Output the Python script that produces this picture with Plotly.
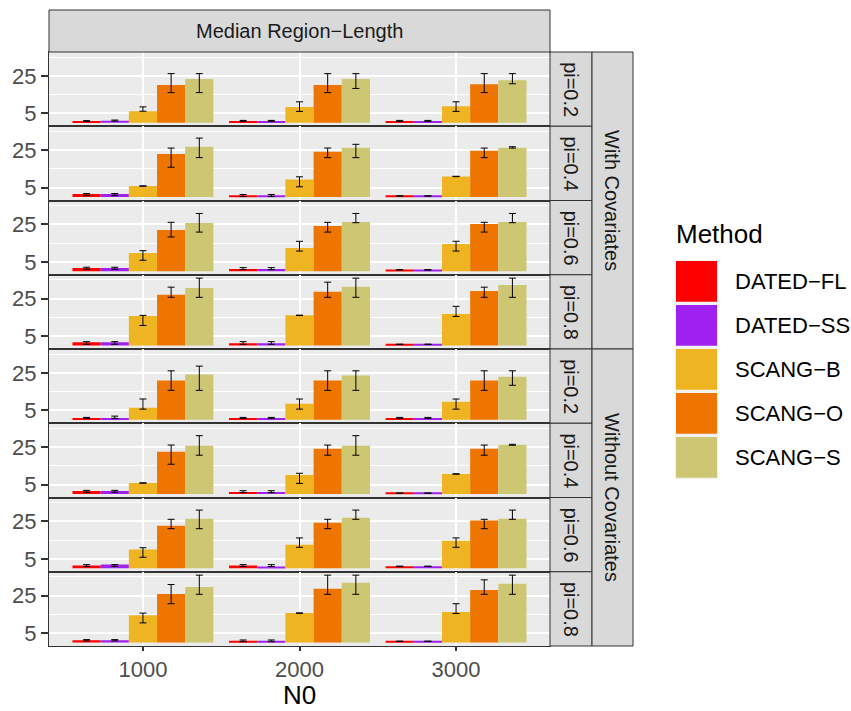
import plotly.graph_objects as go
from plotly.subplots import make_subplots

# ---------------- data ----------------
n0_labels = ["1000", "2000", "3000"]
methods = ["DATED\u2212FL", "DATED\u2212SS", "SCANG\u2212B", "SCANG\u2212O", "SCANG\u2212S"]
method_colors = ["#FF0000", "#A020F0", "#EEB422", "#EE7600", "#CDC673"]
covariate_groups = ["With Covariates", "Without Covariates"]
pi_labels = ["pi=0.2", "pi=0.4", "pi=0.6", "pi=0.8"]
y_tick_vals = [5, 25]

# median values per panel (8 panels: With 0.2..0.8, Without 0.2..0.8), each [N0=1000,2000,3000]
dated_fl_med = [[0.9, 1.0, 1.0], [1.7, 0.6, 0.6], [1.8, 1.3, 0.8], [1.8, 1.25, 0.7],
                [0.9, 0.9, 0.9], [1.6, 1.1, 0.5], [1.5, 1.5, 1.1], [1.25, 0.7, 0.7]]
dated_fl_lo = [[0.8, 0.8, 0.8], [0.8, 0.3, 0.5], [1.1, 0.9, 0.7], [0.7, 0.7, 0.6],
               [0.8, 0.8, 0.8], [0.9, 0.8, 0.4], [1.0, 1.0, 1.0], [0.9, 0.5, 0.6]]
dated_fl_hi = [[1.2, 1.3, 1.3], [1.9, 1.4, 0.7], [2.2, 2.0, 0.9], [2.1, 2.1, 0.8],
               [1.3, 1.3, 1.3], [2.0, 1.8, 0.6], [2.0, 2.0, 1.2], [1.6, 1.4, 0.8]]

dated_ss_med = [[1.1, 1.0, 1.0], [1.7, 0.6, 0.6], [1.8, 1.3, 0.8], [1.8, 1.25, 0.7],
                [1.0, 0.9, 0.9], [1.6, 1.1, 0.5], [2.0, 0.9, 1.1], [1.25, 0.7, 0.7]]
dated_ss_lo = [[0.9, 0.8, 0.8], [0.8, 0.3, 0.5], [1.1, 0.9, 0.7], [0.7, 0.7, 0.6],
               [0.8, 0.8, 0.8], [0.9, 0.8, 0.4], [1.0, 1.0, 1.0], [0.9, 0.5, 0.6]]
dated_ss_hi = [[1.5, 1.3, 1.3], [1.9, 1.4, 0.7], [2.2, 2.0, 0.9], [2.1, 2.1, 0.8],
               [2.0, 1.3, 1.3], [2.0, 1.8, 0.6], [2.0, 2.0, 1.2], [1.6, 1.4, 0.8]]

scang_b_med = [[6.2, 8.4, 8.9], [5.9, 9.4, 11.0], [9.8, 12.4, 14.6], [15.7, 16.1, 16.8],
               [6.4, 8.6, 9.6], [5.9, 10.2, 10.7], [10.0, 12.6, 14.7], [14.6, 15.7, 16.25]]
scang_b_lo = [[6.2, 6.1, 6.1], [5.8, 5.5, 10.9], [5.9, 10.8, 10.8], [10.7, 16.0, 15.5],
              [5.7, 5.7, 5.7], [5.8, 5.7, 10.6], [5.9, 11.2, 11.2], [10.5, 15.6, 15.5]]
scang_b_hi = [[8.5, 11.2, 11.2], [6.0, 10.8, 11.1], [11.0, 16.0, 16.0], [16.1, 16.2, 20.9],
              [11.1, 11.1, 11.1], [6.0, 11.1, 10.8], [11.0, 16.2, 16.2], [15.7, 15.8, 20.7]]

scang_o_med = [[20.1, 20.1, 20.6], [23.0, 24.1, 24.6], [22.0, 24.1, 25.2], [27.0, 28.6, 29.1],
               [20.9, 20.9, 20.9], [22.5, 24.1, 24.1], [22.7, 24.3, 25.4], [25.9, 28.6, 28.0]]
scang_o_lo = [[16.1, 16.1, 16.1], [15.9, 21.0, 21.0], [18.3, 20.9, 20.9], [25.7, 25.7, 25.7],
              [15.7, 15.7, 15.7], [15.9, 20.7, 20.7], [21.1, 21.1, 21.1], [20.7, 25.7, 25.7]]
scang_o_hi = [[26.2, 26.2, 26.2], [26.1, 26.1, 26.1], [26.1, 26.1, 26.1], [31.1, 33.75, 31.1],
              [26.1, 26.1, 26.1], [26.1, 26.1, 26.1], [26.1, 26.1, 26.1], [30.9, 35.9, 33.4]]

scang_s_med = [[23.3, 23.3, 22.7], [26.8, 26.3, 26.3], [25.7, 26.2, 26.2], [30.7, 31.25, 32.3],
               [24.1, 23.6, 23.0], [25.7, 25.7, 26.25], [26.4, 26.9, 26.4], [29.6, 31.8, 31.25]]
scang_s_lo = [[16.1, 18.3, 20.8], [21.0, 21.0, 26.1], [20.9, 25.9, 25.9], [25.7, 25.7, 25.7],
              [15.7, 15.7, 18.4], [20.7, 20.7, 26.0], [21.1, 26.1, 26.1], [25.7, 25.7, 25.7]]
scang_s_hi = [[26.2, 26.2, 26.2], [31.4, 28.1, 26.8], [30.8, 30.8, 30.8], [35.9, 35.9, 35.9],
              [28.6, 26.1, 26.1], [31.1, 31.1, 26.5], [31.0, 31.0, 31.0], [35.9, 35.9, 35.9]]

medians = [dated_fl_med, dated_ss_med, scang_b_med, scang_o_med, scang_s_med]
lows = [dated_fl_lo, dated_ss_lo, scang_b_lo, scang_o_lo, scang_s_lo]
highs = [dated_fl_hi, dated_ss_hi, scang_b_hi, scang_o_hi, scang_s_hi]

# ---------------- layout geometry (px) ----------------
W, H = 851, 711
L, R, T, B = 49, 301, 52, 65
PW = W - L - R
PH = H - T - B
FONT = "Liberation Sans, Arial, sans-serif"
n_rows = 8


def px_x(px):
    return (px - L) / PW


def px_y(py):
    return (H - B - py) / PH


fig = make_subplots(rows=n_rows, cols=1, shared_xaxes=True, vertical_spacing=0)

for r in range(n_rows):
    for m in range(len(methods)):
        med = medians[m][r]
        lo = lows[m][r]
        hi = highs[m][r]
        fig.add_trace(
            go.Bar(
                x=n0_labels,
                y=med,
                name=methods[m],
                marker=dict(color=method_colors[m], line=dict(width=0)),
                error_y=dict(
                    type="data",
                    symmetric=False,
                    array=[h - v for h, v in zip(hi, med)],
                    arrayminus=[v - l for v, l in zip(med, lo)],
                    color="#000000",
                    thickness=1,
                    width=3.5,
                ),
                showlegend=False,
                hoverinfo="skip",
            ),
            row=r + 1,
            col=1,
        )

fig.update_layout(
    width=W,
    height=H,
    margin=dict(l=L, r=R, t=T, b=B),
    paper_bgcolor="white",
    plot_bgcolor="#EBEBEB",
    barmode="group",
    bargap=0.1,
    bargroupgap=0,
    font=dict(family=FONT),
    showlegend=False,
)

for r in range(n_rows):
    fig.update_yaxes(
        range=[-1.8, 37.7],
        tickmode="array",
        tickvals=y_tick_vals,
        ticktext=[str(v) for v in y_tick_vals],
        tickfont=dict(size=22, color="#4D4D4D", family=FONT),
        ticks="outside",
        ticklen=7,
        tickwidth=1.5,
        tickcolor="#333333",
        showgrid=True,
        gridcolor="#FFFFFF",
        gridwidth=1.7,
        minor=dict(tickmode="array", tickvals=[15, 35], showgrid=True,
                   gridcolor="#FFFFFF", gridwidth=0.9, ticks=""),
        zeroline=False,
        showline=True,
        mirror=True,
        linecolor="#333333",
        linewidth=1,
        fixedrange=True,
        row=r + 1,
        col=1,
    )
    fig.update_xaxes(
        type="category",
        categoryorder="array",
        categoryarray=n0_labels,
        range=[-0.6, 2.6],
        showgrid=True,
        gridcolor="#FFFFFF",
        gridwidth=1.7,
        zeroline=False,
        showline=True,
        mirror=True,
        linecolor="#333333",
        linewidth=1,
        ticks="outside" if r == n_rows - 1 else "",
        ticklen=4,
        tickwidth=1.5,
        tickcolor="#333333",
        showticklabels=(r == n_rows - 1),
        tickfont=dict(size=22, color="#4D4D4D", family=FONT),
        row=r + 1,
        col=1,
    )

shapes = []
annotations = []
STRIP_FILL = "#D9D9D9"
STRIP_LINE = "#333333"
STRIP_FONT = 20

# top strip
shapes.append(dict(type="rect", xref="paper", yref="paper", x0=0, x1=1,
                   y0=1, y1=px_y(10), fillcolor=STRIP_FILL,
                   line=dict(color=STRIP_LINE, width=1), layer="above"))
annotations.append(dict(text="Median Region\u2212Length", xref="paper", yref="paper",
                        x=0.5, y=px_y(31), xanchor="center", yanchor="middle",
                        showarrow=False, font=dict(size=STRIP_FONT, color="#1A1A1A", family=FONT)))

# right pi strips
row_h = 1.0 / n_rows
for r in range(n_rows):
    y1 = 1 - r * row_h
    y0 = 1 - (r + 1) * row_h
    shapes.append(dict(type="rect", xref="paper", yref="paper", x0=1, x1=px_x(592),
                       y0=y0, y1=y1, fillcolor=STRIP_FILL,
                       line=dict(color=STRIP_LINE, width=1), layer="above"))
    annotations.append(dict(text=pi_labels[r % 4], xref="paper", yref="paper",
                            x=(1 + px_x(592)) / 2, y=(y0 + y1) / 2, textangle=90,
                            xanchor="center", yanchor="middle", showarrow=False,
                            font=dict(size=STRIP_FONT, color="#1A1A1A", family=FONT)))

# outer covariate strips
for g in range(2):
    y1 = 1 - g * 0.5
    y0 = 0.5 - g * 0.5
    shapes.append(dict(type="rect", xref="paper", yref="paper", x0=px_x(592), x1=px_x(633),
                       y0=y0, y1=y1, fillcolor=STRIP_FILL,
                       line=dict(color=STRIP_LINE, width=1), layer="above"))
    annotations.append(dict(text=covariate_groups[g], xref="paper", yref="paper",
                            x=(px_x(592) + px_x(633)) / 2, y=(y0 + y1) / 2, textangle=90,
                            xanchor="center", yanchor="middle", showarrow=False,
                            font=dict(size=STRIP_FONT, color="#1A1A1A", family=FONT)))

# x axis title
annotations.append(dict(text="N0", xref="paper", yref="paper", x=0.5, y=px_y(711),
                        xanchor="center", yanchor="bottom", showarrow=False, borderpad=0,
                        font=dict(size=26, color="#000000", family=FONT)))

# custom legend
annotations.append(dict(text="Method", xref="paper", yref="paper", x=px_x(674), y=px_y(234),
                        xanchor="left", yanchor="middle", showarrow=False,
                        font=dict(size=26, color="#000000", family=FONT)))
shapes.append(dict(type="rect", xref="paper", yref="paper", x0=px_x(675), x1=px_x(718),
                   y0=px_y(479), y1=px_y(260), fillcolor="#F2F2F2", line=dict(width=0)))
key_top0 = 261
key_step = 44
key_size = 40.7
for i, (name, col) in enumerate(zip(methods, method_colors)):
    top = key_top0 + i * key_step
    shapes.append(dict(type="rect", xref="paper", yref="paper", x0=px_x(676), x1=px_x(717),
                       y0=px_y(top + key_size), y1=px_y(top), fillcolor=col, line=dict(width=0)))
    annotations.append(dict(text=name, xref="paper", yref="paper", x=px_x(733),
                            y=px_y(top + key_size / 2), xanchor="left", yanchor="middle",
                            showarrow=False, font=dict(size=22, color="#000000", family=FONT)))

fig.update_layout(shapes=shapes, annotations=annotations)

fig.write_html("out.html")
